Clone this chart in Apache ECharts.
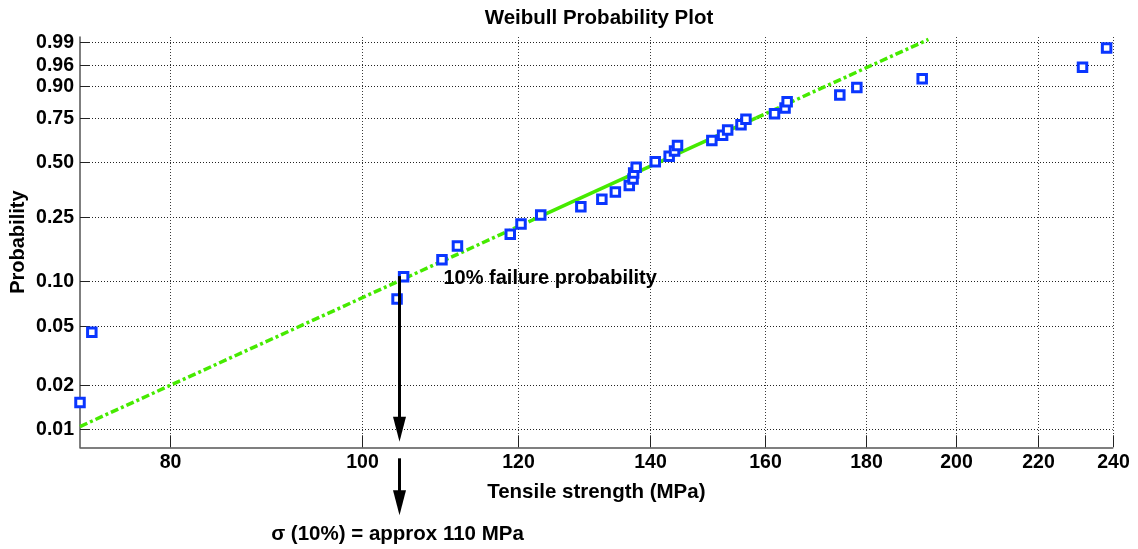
<!DOCTYPE html>
<html>
<head>
<meta charset="utf-8">
<script src="https://cdn.jsdelivr.net/npm/echarts@6/dist/echarts.min.js"></script>
<style>
  html, body { margin: 0; padding: 0; background: #fff; }
  #chart { width: 1138px; height: 549px; }
</style>
</head>
<body>
<div id="chart"></div>
<script>
// Tensile strength of each specimen (MPa), in ascending order
const strength = [72.0, 73.0, 104.2, 105.0, 109.8, 111.8, 118.9, 120.4, 123.2, 129.1,
  132.3, 134.4, 136.6, 137.2, 137.3, 137.7, 140.8, 143.1, 144.0, 144.5,
  150.4, 152.3, 153.2, 155.6, 156.5, 161.8, 163.8, 164.2, 174.6, 178.1,
  192.2, 231.7, 238.3];
// Failure probability (plotting position) of each specimen
const probability = [0.0152, 0.0455, 0.0758, 0.1061, 0.1364, 0.1667, 0.1970, 0.2273, 0.2576, 0.2879,
  0.3182, 0.3485, 0.3788, 0.4091, 0.4394, 0.4697, 0.5000, 0.5303, 0.5606, 0.5909,
  0.6212, 0.6515, 0.6818, 0.7121, 0.7424, 0.7727, 0.8030, 0.8333, 0.8636, 0.8939,
  0.9242, 0.9545, 0.9848];
// Fitted Weibull line: both ends plus the quartile points bounding the solid part
const fitStrength = [72.0, 122.9, 158.4, 193.6];
const fitProbability = [0.0104, 0.25, 0.75, 0.9918];
// Axis ticks and limits
const xTicks = [80, 100, 120, 140, 160, 180, 200, 220, 240];
const yTicks = [0.01, 0.02, 0.05, 0.10, 0.25, 0.50, 0.75, 0.90, 0.96, 0.99];
const xRange = [72, 240];
const yRange = [0.0075, 0.9932];
// Where the fit line crosses the 10% level (strength, probability)
const arrowPoint = [104.4, 0.107];

// Weibull paper: log strength against log(-log(1 - p))
const wx = v => Math.log(v);
const wy = p => Math.log(-Math.log(1 - p));

const FONT = '"Liberation Sans", Arial, Helvetica, sans-serif';
const GREEN = '#46ea00';
const BLUE = '#0a36ff';

const chart = echarts.init(document.getElementById('chart'), null, { renderer: 'canvas' });

const xTickSeries = {
  type: 'custom',
  silent: true,
  clip: false,
  z: 1,
  data: xTicks.map(v => [wx(v), wy(yRange[0])]),
  renderItem(params, api) {
    const cs = params.coordSys;
    const x = Math.round(api.coord([api.value(0), api.value(1)])[0]) + 0.5;
    const top = cs.y, bottom = cs.y + cs.height;
    return {
      type: 'group',
      children: [
        { type: 'line', shape: { x1: x, y1: top, x2: x, y2: bottom },
          style: { stroke: '#3a3a3a', lineWidth: 1, lineDash: [1, 2] } },
        { type: 'line', shape: { x1: x, y1: bottom, x2: x, y2: bottom - 12 },
          style: { stroke: '#222', lineWidth: 1 } },
        { type: 'text', x: x, y: bottom + 5,
          style: { text: String(xTicks[params.dataIndex]), fill: '#000',
            font: 'bold 19.5px ' + FONT, align: 'center', verticalAlign: 'top' } }
      ]
    };
  }
};

const yTickSeries = {
  type: 'custom',
  silent: true,
  clip: false,
  z: 1,
  data: yTicks.map(p => [wx(xRange[0]), wy(p)]),
  renderItem(params, api) {
    const cs = params.coordSys;
    const y = Math.round(api.coord([api.value(0), api.value(1)])[1]) + 0.5;
    const left = cs.x, right = cs.x + cs.width;
    return {
      type: 'group',
      children: [
        { type: 'line', shape: { x1: left, y1: y, x2: right, y2: y },
          style: { stroke: '#222', lineWidth: 1, lineDash: [1, 2] } },
        { type: 'line', shape: { x1: left, y1: y, x2: left + 10, y2: y },
          style: { stroke: '#222', lineWidth: 1 } },
        { type: 'text', x: left - 6, y: y,
          style: { text: yTicks[params.dataIndex].toFixed(2), fill: '#000',
            font: 'bold 19.5px ' + FONT, align: 'right', verticalAlign: 'middle' } }
      ]
    };
  }
};

function fitSegment(i, solid) {
  return {
    type: 'line',
    silent: true,
    symbol: 'none',
    z: 3,
    data: [
      [wx(fitStrength[i]), wy(fitProbability[i])],
      [wx(fitStrength[i + 1]), wy(fitProbability[i + 1])]
    ],
    lineStyle: { color: GREEN, width: 3.5, type: solid ? 'solid' : [8, 3, 3, 3], cap: 'butt' }
  };
}

function arrow(x, y0, tip) {
  return [
    { type: 'line', shape: { x1: x, y1: y0, x2: x, y2: tip - 12 },
      style: { stroke: '#000', lineWidth: 3 } },
    { type: 'polygon', shape: { points: [[x - 6.5, tip - 25], [x + 6.5, tip - 25], [x, tip]] },
      style: { fill: '#000' } }
  ];
}

const annotationSeries = {
  type: 'custom',
  silent: true,
  clip: false,
  z: 5,
  data: [[wx(arrowPoint[0]), wy(arrowPoint[1])]],
  renderItem(params, api) {
    const cs = params.coordSys;
    const bottom = cs.y + cs.height;
    const pt = api.coord([api.value(0), api.value(1)]);
    const x = Math.round(pt[0]) + 0.5;
    const tenPct = api.coord([api.value(0), wy(0.10)])[1];
    return {
      type: 'group',
      children: [
        ...arrow(x, pt[1], bottom - 5.5),
        ...arrow(x, bottom + 11, bottom + 68),
        { type: 'text', x: x + 44, y: tenPct - 2,
          style: { text: '10% failure probability', fill: '#000',
            font: 'bold 20px ' + FONT, align: 'left', verticalAlign: 'middle' } },
        { type: 'text', x: x - 2, y: bottom + 87,
          style: { text: 'σ (10%) = approx 110 MPa', fill: '#000',
            font: 'bold 20.5px ' + FONT, align: 'center', verticalAlign: 'middle' } }
      ]
    };
  }
};

const option = {
  backgroundColor: '#fff',
  animation: false,
  title: {
    text: 'Weibull Probability Plot',
    left: 594,
    top: 3,
    textAlign: 'center',
    textStyle: { fontFamily: FONT, fontWeight: 'bold', fontSize: 20.5, color: '#000' }
  },
  grid: { left: 80, right: 25.3, top: 37, bottom: 101.7, containLabel: false },
  xAxis: {
    type: 'value',
    min: wx(xRange[0]),
    max: wx(xRange[1]),
    name: 'Tensile strength (MPa)',
    nameLocation: 'middle',
    nameGap: 35,
    nameTextStyle: { fontFamily: FONT, fontWeight: 'bold', fontSize: 20.5, color: '#000' },
    axisLine: { show: true, onZero: false, lineStyle: { color: '#555', width: 1.5 } },
    axisTick: { show: false },
    axisLabel: { show: false },
    splitLine: { show: false }
  },
  yAxis: {
    type: 'value',
    min: wy(yRange[0]),
    max: wy(yRange[1]),
    name: 'Probability',
    nameLocation: 'middle',
    nameGap: 52,
    nameTextStyle: { fontFamily: FONT, fontWeight: 'bold', fontSize: 20, color: '#000' },
    axisLine: { show: true, onZero: false, lineStyle: { color: '#555', width: 1.5 } },
    axisTick: { show: false },
    axisLabel: { show: false },
    splitLine: { show: false }
  },
  series: [
    xTickSeries,
    yTickSeries,
    fitSegment(0, false),
    fitSegment(1, true),
    fitSegment(2, false),
    {
      type: 'scatter',
      silent: true,
      clip: false,
      z: 4,
      symbol: 'rect',
      symbolSize: 8.5,
      itemStyle: { color: '#fff', borderColor: BLUE, borderWidth: 3, opacity: 1 },
      data: strength.map((s, i) => [wx(s), wy(probability[i])])
    },
    annotationSeries
  ]
};

chart.setOption(option);
</script>
</body>
</html>
